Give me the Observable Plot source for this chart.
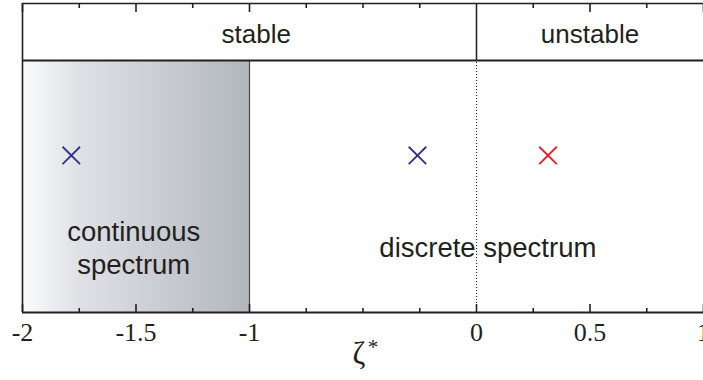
<!DOCTYPE html>
<html><head><meta charset="utf-8">
<script src="https://cdn.jsdelivr.net/npm/d3@7"></script>
<script src="https://cdn.jsdelivr.net/npm/@observablehq/plot@0.6"></script>
<style>body{margin:0;background:#fff}</style>
</head><body><div id="chart"></div>
<script>
// ---- data ----
const majorTicks = [-2, -1.5, -1, 0, 0.5, 1];
const minorTicks = [-1.75, -1.25, -0.75, -0.5, -0.25, 0.25, 0.75];
const tickLabels = ["-2", "-1.5", "-1", "0", "0.5", "1"];
const regionLabels = ["stable", "unstable"];
const regionCenters = [-0.97, 0.5];
const continuumStart = -2;
const continuumEnd = -1;
const stabilityBoundary = 0;
const eigenX = [-1.785, -0.26, 0.315];
const eigenY = [0.623, 0.623, 0.623];
const eigenKind = ["stable", "stable", "unstable"];
const spectrumText = ["continuous\nspectrum", "discrete spectrum"];
const spectrumX = [-1.51, 0.05];
const spectrumY = [0.154, 0.219];
const axisLabelX = -0.5;

const xDomain = [-2, 1];
const yMain = 1;          // top of the main panel
const yTop = 1.226;       // top of the stability band

const ink = "#231f20";
const eigen = eigenX.map((x, i) => ({x, y: eigenY[i], kind: eigenKind[i]}));
const spectra = spectrumText.map((t, i) => ({t, x: spectrumX[i], y: spectrumY[i]}));
const regions = regionLabels.map((t, i) => ({t, x: regionCenters[i]}));

const defs = () => {
  const d = d3.create("svg:defs");
  const g = d.append("linearGradient").attr("id", "contGrad").attr("x1", 0).attr("x2", 1).attr("y1", 0).attr("y2", 0);
  g.append("stop").attr("offset", "0%").attr("stop-color", "#fbfbfc");
  g.append("stop").attr("offset", "25%").attr("stop-color", "#dfe1e5");
  g.append("stop").attr("offset", "100%").attr("stop-color", "#b2b7be");
  return d.node();
};

const chart = Plot.plot({
  width: 703,
  height: 380,
  marginLeft: 22,
  marginRight: 0,
  marginTop: 3,
  marginBottom: 68,
  x: {domain: xDomain, axis: null},
  y: {domain: [0, yTop], axis: null},
  style: {background: "#fff", overflow: "visible"},
  marks: [
    defs,
    Plot.rect([[continuumStart, continuumEnd]], {x1: d => d[0], x2: d => d[1], y1: 0, y2: yMain, fill: "url(#contGrad)"}),
    Plot.ruleX([continuumEnd], {y1: 0, y2: yMain, stroke: "#4a4a4a", strokeWidth: 1.2}),
    Plot.ruleX([stabilityBoundary], {y1: 0, y2: yMain, stroke: ink, strokeWidth: 1, strokeDasharray: "1,2"}),
    Plot.ruleX([stabilityBoundary], {y1: yMain, y2: yTop, stroke: ink, strokeWidth: 1.5}),
    Plot.ruleX([xDomain[0]], {y1: 0, y2: yTop, stroke: ink, strokeWidth: 1.6}),
    Plot.ruleY([yMain], {x1: xDomain[0], x2: xDomain[1], stroke: ink, strokeWidth: 2}),
    Plot.ruleY([yTop], {x1: xDomain[0], x2: xDomain[1], stroke: ink, strokeWidth: 1.3}),
    Plot.ruleY([0], {x1: xDomain[0], x2: xDomain[1], stroke: ink, strokeWidth: 2}),
    // bottom ticks (pointing up)
    Plot.ruleX(majorTicks, {y1: 0, y2: 0, insetBottom: 8, stroke: ink, strokeWidth: 1.6}),
    Plot.ruleX(minorTicks, {y1: 0, y2: 0, insetBottom: 4, stroke: ink, strokeWidth: 1.6}),
    // top ticks (pointing down)
    Plot.ruleX(majorTicks.filter(d => d !== stabilityBoundary), {y1: yTop, y2: yTop, insetTop: 9, stroke: ink, strokeWidth: 1.6}),
    Plot.ruleX(minorTicks, {y1: yTop, y2: yTop, insetTop: 5, stroke: ink, strokeWidth: 1.6}),
    // tick labels
    Plot.text(majorTicks, {x: d => d, y: 0, text: (d, i) => tickLabels[i], dy: 28, lineAnchor: "bottom",
      fontFamily: "Liberation Serif", fontSize: 26, fill: ink}),
    // axis label
    Plot.text([axisLabelX], {x: d => d, y: 0, text: () => "ζ", dx: -4, dy: 51, lineAnchor: "bottom",
      fontFamily: "Liberation Serif", fontSize: 31, fill: ink}),
    Plot.text([axisLabelX], {x: d => d, y: 0, text: () => "*", dx: 10, dy: 41, lineAnchor: "bottom",
      fontFamily: "Liberation Serif", fontSize: 21, fill: ink}),
    // region labels
    Plot.text(regions, {x: "x", y: yMain, text: "t", dy: -17, lineAnchor: "bottom",
      fontFamily: "Liberation Sans", fontSize: 26, fill: ink}),
    // spectrum labels
    Plot.text(spectra, {x: "x", y: "y", text: "t", lineAnchor: "bottom", lineHeight: 1.18,
      fontFamily: "Liberation Sans", fontSize: 27.5, fill: ink}),
    // eigenvalues
    Plot.dot(eigen, {x: "x", y: "y", symbol: "times", r: 8, strokeWidth: 1.8,
      stroke: d => d.kind === "stable" ? "#2e3192" : "#ed1c24"})
  ]
});
document.getElementById("chart").appendChild(chart);
</script>
</body></html>
